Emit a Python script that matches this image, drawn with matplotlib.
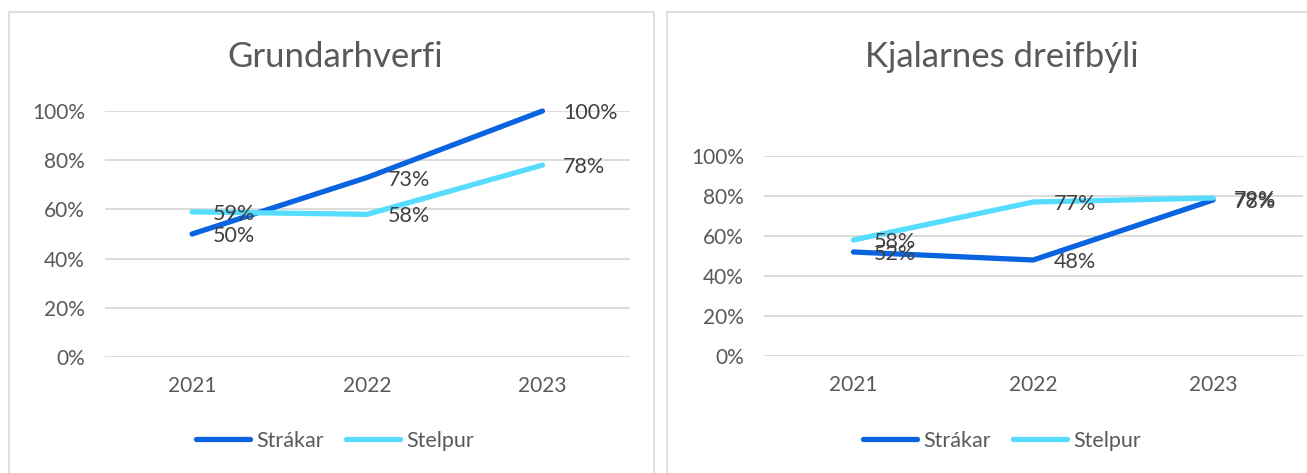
import matplotlib.pyplot as plt
from matplotlib.patches import Rectangle

plt.rcParams['font.family'] = ['Lato', 'DejaVu Sans']

years = ["2021", "2022", "2023"]
series_names = ["Strákar", "Stelpur"]

grund_titill = "Grundarhverfi"
grund_strakar = [0.50, 0.73, 1.00]
grund_stelpur = [0.59, 0.58, 0.78]

kjal_titill = "Kjalarnes dreifbýli"
kjal_strakar = [0.52, 0.48, 0.78]
kjal_stelpur = [0.58, 0.77, 0.79]

C_STRAKAR = "#0A64E0"
C_STELPUR = "#55DCFF"
TXT = "#595959"
GRID = "#D9D9D9"

W, H = 1307, 473
fig = plt.figure(figsize=(W / 100, H / 100), dpi=100)


def px(x0, y0, x1, y1):
    # pixel box (top-left origin) -> figure fraction
    return [x0 / W, 1 - y1 / H, (x1 - x0) / W, (y1 - y0) / H]


# panel frames
for x0, x1 in [(9, 654), (667, 1312)]:
    fig.patches.append(Rectangle((x0 / W, -0.05), (x1 - x0) / W, 1 - 12 / H + 0.05,
                                 transform=fig.transFigure, fill=False,
                                 edgecolor="#D9D9D9", linewidth=1.2))

panels = [
    (grund_titill, grund_strakar, grund_stelpur, px(104.5, 111, 630, 357), 335),
    (kjal_titill, kjal_strakar, kjal_stelpur, px(763.5, 156, 1303, 356), 1002),
]

for title, strakar, stelpur, box, cx in panels:
    ax = fig.add_axes(box)
    x = range(len(years))
    ax.plot(x, strakar, color=C_STRAKAR, lw=3.8, solid_capstyle="round",
            label=series_names[0], clip_on=False, zorder=3)
    ax.plot(x, stelpur, color=C_STELPUR, lw=3.8, solid_capstyle="round",
            label=series_names[1], clip_on=False, zorder=3)
    for vals in (strakar, stelpur):
        for i, v in enumerate(vals):
            ax.annotate(f"{round(v * 100)}%", (i, v), xytext=(15, -1.5),
                        textcoords="offset points", ha="left", va="center",
                        fontsize=15.5, color="#404040", zorder=4)
    ax.set_xlim(-0.5, 2.5)
    ax.set_ylim(0, 1)
    ax.set_yticks([0, 0.2, 0.4, 0.6, 0.8, 1.0])
    ax.set_yticklabels(["0%", "20%", "40%", "60%", "80%", "100%"])
    ax.set_xticks(list(x))
    ax.set_xticklabels(years)
    ax.grid(axis="y", color=GRID, lw=1.3)
    ax.set_axisbelow(True)
    for s in ax.spines.values():
        s.set_visible(False)
    ax.tick_params(length=0, labelsize=15, labelcolor=TXT)
    ax.tick_params(axis="y", pad=14)
    ax.tick_params(axis="x", pad=14)
    fig.text(cx / W, 1 - 57 / H, title, ha="center", va="center",
             fontsize=25, color=TXT)
    ax.legend(loc="center", bbox_to_anchor=(cx / W, 1 - 441 / H),
              bbox_transform=fig.transFigure, ncol=2, frameon=False,
              fontsize=15.5, labelcolor=TXT, handlelength=2.5,
              handletextpad=0.3, columnspacing=1.05)

fig.savefig("out.png", dpi=100)
